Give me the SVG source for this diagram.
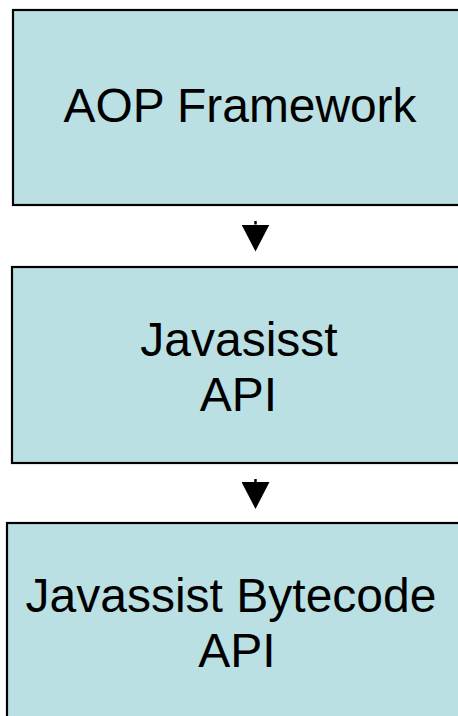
<svg xmlns="http://www.w3.org/2000/svg" width="458" height="716" viewBox="0 0 458 716">
  <style>
    .box { fill: #BAE0E3; stroke: #000; stroke-width: 2.2; }
    .label { font-family: "Liberation Sans", Arial, sans-serif; font-size: 48px; fill: #000; text-anchor: middle; }
    .link { stroke: #000; stroke-width: 2.5; fill: none; }
  </style>
  <defs>
    <marker id="head" markerUnits="userSpaceOnUse" viewBox="0 0 27 28" refX="0" refY="14" markerWidth="27" markerHeight="28" orient="auto">
      <path d="M0,0 L27,14 L0,28 Z" fill="#000"/>
    </marker>
  </defs>

  <rect width="458" height="716" fill="#fff"/>

  <g id="aop-framework">
    <rect class="box" x="13" y="10" width="460" height="195"/>
    <text class="label" x="240" y="122" font-size="44" textLength="353" lengthAdjust="spacingAndGlyphs">AOP Framework</text>
  </g>

  <g id="javassist-api">
    <rect class="box" x="12" y="267" width="460" height="196"/>
    <text class="label" x="239" y="356">Javasisst</text>
    <text class="label" x="238.5" y="411">API</text>
  </g>

  <g id="bytecode-api">
    <rect class="box" x="7" y="523" width="466" height="210"/>
    <text class="label" x="231" y="612">Javassist Bytecode</text>
    <text class="label" x="237" y="667">API</text>
  </g>

  <g id="connectors">
    <line class="link" x1="255.5" y1="221" x2="255.5" y2="224.5" marker-end="url(#head)"/>
    <line class="link" x1="255.5" y1="479" x2="255.5" y2="482" marker-end="url(#head)"/>
  </g>
</svg>
